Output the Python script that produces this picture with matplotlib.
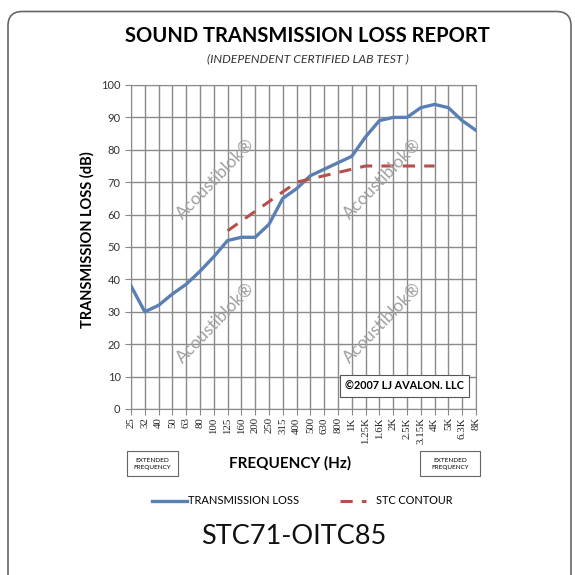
import matplotlib
matplotlib.use("Agg")
import matplotlib.pyplot as plt
from matplotlib.patches import FancyBboxPatch, Rectangle
from matplotlib.lines import Line2D

plt.rcParams['font.family'] = ['Lato', 'DejaVu Sans']

# data
freqs = ['25', '32', '40', '50', '63', '80', '100', '125', '160', '200', '250', '315', '400',
         '500', '630', '800', '1K', '1.25K', '1.6K', '2K', '2.5K', '3.15K', '4K', '5K', '6.3K', '8K']
tl = [38, 30, 32, 35.5, 38.5, 42.5, 47, 52, 53, 53, 57, 65, 68,
      72, 74, 76, 78, 84, 89, 90, 90, 93, 94, 93, 89, 86]
stc_freqs = ['125', '160', '200', '250', '315', '400', '500', '630', '800', '1K',
             '1.25K', '1.6K', '2K', '2.5K', '3.15K', '4K']
stc = [55, 58, 61, 64, 67, 70, 71, 72, 73, 74, 75, 75, 75, 75, 75, 75]

fig = plt.figure(figsize=(5.75, 5.75), dpi=100)
ax = fig.add_axes([0.2278, 0.2887, 0.6, 0.5635])

x = list(range(len(freqs)))
stc_x = [freqs.index(f) for f in stc_freqs]

ax.plot(x, tl, color='#5a7fb5', lw=2.4, zorder=3)
ax.plot(stc_x, stc, color='#b5504c', lw=2.2, ls=(0, (4, 3)), zorder=3)

ax.set_xlim(0, len(freqs) - 1)
ax.set_ylim(0, 100)
ax.set_xticks(x)
ax.set_xticklabels(freqs, rotation=90, fontsize=7.8, family=['Liberation Serif', 'DejaVu Serif'],
                   color='#222222')
ax.set_yticks(range(0, 101, 10))
ax.tick_params(axis='y', labelsize=8, length=4, color='#888888', labelcolor='#333333')
ax.tick_params(axis='x', length=4, color='#888888', pad=2)
ax.grid(True, color='#8a8a8a', lw=1.0)
ax.set_axisbelow(True)
for s in ax.spines.values():
    s.set_color('#8a8a8a')

fig.text(87 / 575, 1 - 240 / 575, 'TRANSMISSION LOSS (dB)', rotation=90, ha='center',
         va='center', fontsize=10.5, fontweight='bold')

# watermarks
for wx, wy in [(0.245, 0.71), (0.73, 0.71), (0.245, 0.265), (0.73, 0.265)]:
    ax.text(wx, wy, 'Acoustiblok\u00ae', transform=ax.transAxes, rotation=46,
            fontsize=12.5, color='#a0a0a0', ha='center', va='center', zorder=4)

ax.text(0.965, 0.07, '\u00a92007 LJ AVALON. LLC', transform=ax.transAxes, ha='right',
        va='center', fontsize=7.8, fontweight='bold', zorder=5,
        bbox=dict(boxstyle='square,pad=0.5', fc='white', ec='#555555', lw=0.8))

# titles
fig.text(0.535, 0.938, 'SOUND TRANSMISSION LOSS REPORT', ha='center', va='center',
         fontsize=14.5, fontweight='bold')
fig.text(0.535, 0.898, '(INDEPENDENT CERTIFIED LAB TEST )', ha='center', va='center',
         fontsize=8.8, style='italic', color='#333333')
fig.text(0.505, 0.195, 'FREQUENCY (Hz)', ha='center', va='center', fontsize=11,
         fontweight='bold')

# extended frequency boxes
for bx, bw in [(127, 51), (420, 60)]:
    fig.patches.append(Rectangle((bx / 575, 1 - 476 / 575), bw / 575, 25 / 575,
                                 transform=fig.transFigure, fc='white', ec='#666666', lw=0.8))
    fig.text((bx + bw / 2) / 575, 1 - 463.5 / 575, 'EXTENDED\nFREQUENCY', ha='center',
             va='center', fontsize=4.6, linespacing=1.5)

# legend
fig.lines.append(Line2D([152 / 575, 187 / 575], [1 - 501 / 575] * 2, transform=fig.transFigure,
                        color='#5a7fb5', lw=2.4))
fig.text(188 / 575, 1 - 501 / 575, 'TRANSMISSION LOSS', ha='left', va='center', fontsize=8)
fig.lines.append(Line2D([340 / 575, 366 / 575], [1 - 501 / 575] * 2, transform=fig.transFigure,
                        color='#b5504c', lw=2.2, ls=(0, (4, 3))))
fig.text(376 / 575, 1 - 501 / 575, 'STC CONTOUR', ha='left', va='center', fontsize=7.8)

fig.text(0.51, 1 - 537 / 575, 'STC71-OITC85', ha='center', va='center', fontsize=19.5,
         color='#111111')

# outer frame
fig.patches.append(FancyBboxPatch((8 / 575, -0.05), 563 / 575, 1.03,
                                  boxstyle='round,pad=0,rounding_size=0.025',
                                  transform=fig.transFigure, fc='none', ec='#666666', lw=1.2))

fig.savefig('out.png', dpi=100)
